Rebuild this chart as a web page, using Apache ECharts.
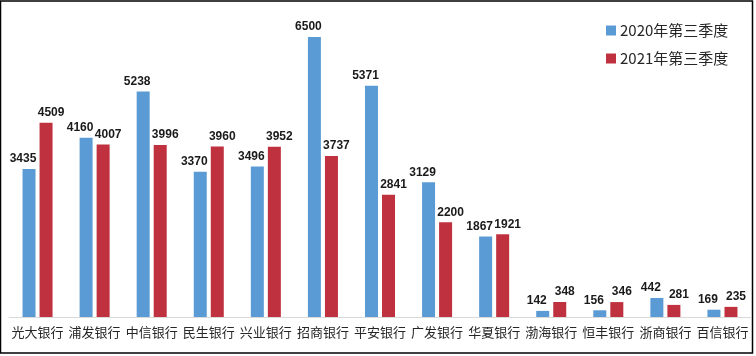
<!DOCTYPE html>
<html><head><meta charset="utf-8">
<script src="https://cdn.jsdelivr.net/npm/echarts@6/dist/echarts.min.js"></script>
<style>html,body{margin:0;padding:0;background:#fff}#c{width:756px;height:356px}</style>
</head><body><div id="c"></div>
<script>
const categories = ['光大银行','浦发银行','中信银行','民生银行','兴业银行','招商银行','平安银行','广发银行','华夏银行','渤海银行','恒丰银行','浙商银行','百信银行'];
const seriesNames = ['2020年第三季度','2021年第三季度'];
const values2020 = [3435,4160,5238,3370,3496,6500,5371,3129,1867,142,156,442,169];
const values2021 = [4509,4007,3996,3960,3952,3737,2841,2200,1921,348,346,281,235];

const chart = echarts.init(document.getElementById('c'));
const labelStyle = {show:true, position:'top', fontFamily:'Liberation Sans, Arial, sans-serif', fontWeight:'bold', fontSize:12, color:'#1a1a1a', distance:4};
chart.setOption({
  animation:false,
  backgroundColor:'#fff',
  graphic:[{type:'rect', shape:{x:0.5,y:1,width:752,height:352}, style:{fill:'none', stroke:'#000', lineWidth:1.5}, silent:true, z:-1}],
  legend:{orient:'vertical', left:601, top:18, itemWidth:10, itemHeight:10, itemGap:13, icon:'rect',
    textStyle:{fontFamily:'Noto Sans CJK SC', fontSize:15, color:'#262626', padding:[0,0,0,-1]}},
  grid:{left:9, right:5, top:15.5, bottom:39, containLabel:false},
  xAxis:{type:'category', data:categories,
    axisLine:{lineStyle:{color:'#d9d9d9', width:1}}, axisTick:{show:false},
    axisLabel:{fontFamily:'Noto Sans CJK SC', fontSize:13, color:'#262626', margin:9, interval:0}},
  yAxis:{type:'value', min:0, max:7000, show:false, splitLine:{show:false}},
  series:[
    {name:seriesNames[0], type:'bar', data:values2020, barWidth:13, barGap:'31%',
     itemStyle:{color:'#5B9BD5'}, label:Object.assign({}, labelStyle, {offset:[-6,0]})},
    {name:seriesNames[1], type:'bar', data:values2021, barWidth:13,
     itemStyle:{color:'#C0313F'}, label:Object.assign({}, labelStyle, {offset:[5,0]})}
  ]
});
</script></body></html>
